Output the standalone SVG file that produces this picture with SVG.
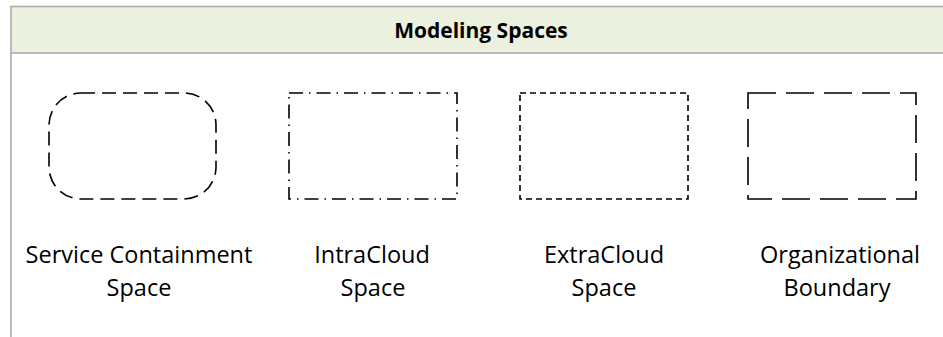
<svg xmlns="http://www.w3.org/2000/svg" width="943" height="337" viewBox="0 0 943 337">
<style>
.lbl{font-family:"Open Sans","Liberation Sans",sans-serif;font-size:23.5px;fill:#000;text-anchor:middle}
.ttl{font-family:"Open Sans","Liberation Sans",sans-serif;font-size:21px;font-weight:bold;fill:#000;text-anchor:middle}
.sh{fill:none;stroke:#000;stroke-width:1.6}
</style>
<rect x="0" y="0" width="943" height="337" fill="#fff"/>
<g id="header">
<rect x="11" y="6.5" width="940" height="46.5" fill="#ebf1de" stroke="#a6a6a6" stroke-width="1.5"/>
<line x1="11" y1="53" x2="11" y2="337" stroke="#a6a6a6" stroke-width="1.5"/>
<text class="ttl" x="481" y="38">Modeling Spaces</text>
</g>
<g id="service-containment">
<rect class="sh" x="49" y="93" width="167" height="106" rx="32" ry="32" stroke-dasharray="14 7"/>
<text class="lbl" x="139" y="263">Service Containment</text>
<text class="lbl" x="139" y="296">Space</text>
</g>
<g id="intracloud">
<rect class="sh" x="289" y="93" width="168" height="106" stroke-dasharray="14 6 1.5 6"/>
<text class="lbl" x="372" y="263">IntraCloud</text>
<text class="lbl" x="373" y="296">Space</text>
</g>
<g id="extracloud">
<rect class="sh" x="520" y="93" width="168" height="106" stroke-dasharray="6 4"/>
<text class="lbl" x="604" y="263">ExtraCloud</text>
<text class="lbl" x="604" y="296">Space</text>
</g>
<g id="organizational">
<rect class="sh" x="748" y="93" width="168" height="106" stroke-dasharray="28 10"/>
<text class="lbl" x="840" y="263">Organizational</text>
<text class="lbl" x="837" y="296">Boundary</text>
</g>
<g id="connectors"></g>
</svg>
